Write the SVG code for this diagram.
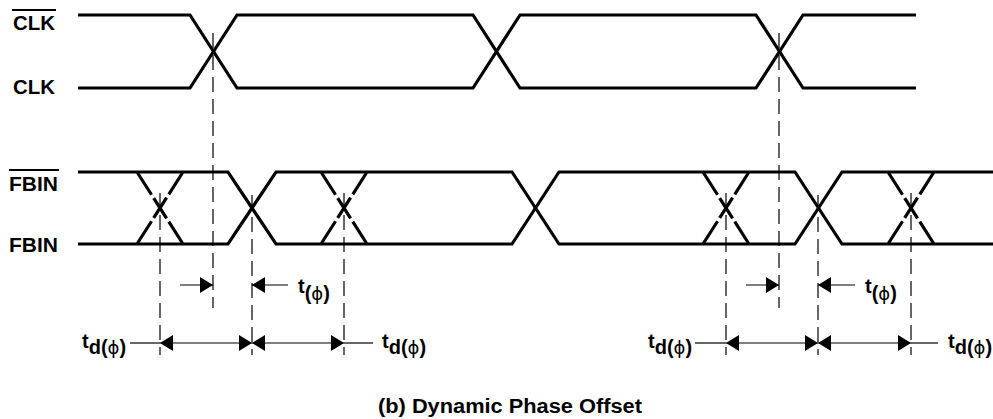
<svg xmlns="http://www.w3.org/2000/svg" width="993" height="419" viewBox="0 0 993 419">
<defs>
<style>
.sig{fill:none;stroke:#000;stroke-width:3.2;stroke-linejoin:miter}
.dx{fill:none;stroke:#000;stroke-width:3.2;stroke-dasharray:27 4 24 4 27}
.vd{fill:none;stroke:#000;stroke-width:1.2;stroke-dasharray:15 7}
.ar{fill:none;stroke:#000;stroke-width:1.2}
.ov{stroke:#000;stroke-width:2.2}
.lbl{font-family:"Liberation Sans",Arial,sans-serif;font-weight:bold;font-size:20px;fill:#000}
.tl{font-family:"Liberation Sans",Arial,sans-serif;font-weight:bold;font-size:20px;fill:#000}
.ph{font-family:"DejaVu Sans","Liberation Sans",sans-serif;font-weight:normal;font-size:18px}
</style>
<marker id="ah" viewBox="0 0 13 16" refX="13" refY="8" markerWidth="13" markerHeight="16" markerUnits="userSpaceOnUse" orient="auto-start-reverse">
<path d="M0,0 L13,8 L0,16 Z" fill="#000"/>
</marker>
</defs>
<rect width="993" height="419" fill="#fff"/>

<g id="clk_bar">
<polyline class="sig" points="78,15 190,15 237,88 473,88 520,15 756,15 803,88 916,88"/>
<text class="lbl" x="13" y="30" textLength="42" lengthAdjust="spacingAndGlyphs">CLK</text>
<line class="ov" x1="12" y1="10" x2="56" y2="10"/>
</g>
<g id="clk">
<polyline class="sig" points="78,88 190,88 237,15 473,15 520,88 756,88 803,15 916,15"/>
<text class="lbl" x="13" y="94" textLength="42" lengthAdjust="spacingAndGlyphs">CLK</text>
</g>
<g id="fbin_bar">
<polyline class="sig" points="78,172 228,172 276,244 512,244 559,172 795,172 842,244 993,244"/>
<text class="lbl" x="9" y="191" textLength="49" lengthAdjust="spacingAndGlyphs">FBIN</text>
<line class="ov" x1="9" y1="170" x2="59" y2="170"/>
</g>
<g id="fbin">
<polyline class="sig" points="78,244 228,244 276,172 512,172 559,244 795,244 842,172 993,172"/>
<text class="lbl" x="9" y="252" textLength="49" lengthAdjust="spacingAndGlyphs">FBIN</text>
</g>
<g id="jitter_edges">
<line class="dx" x1="137" y1="172" x2="183" y2="244"/>
<line class="dx" x1="137" y1="244" x2="183" y2="172"/>
<line class="dx" x1="321" y1="172" x2="367" y2="244"/>
<line class="dx" x1="321" y1="244" x2="367" y2="172"/>
<line class="dx" x1="703" y1="172" x2="749" y2="244"/>
<line class="dx" x1="703" y1="244" x2="749" y2="172"/>
<line class="dx" x1="888" y1="172" x2="934" y2="244"/>
<line class="dx" x1="888" y1="244" x2="934" y2="172"/>
</g>

<g id="connectors">
<line class="vd" x1="213" y1="33" x2="213" y2="308"/>
<line class="vd" x1="779" y1="33" x2="779" y2="308"/>
<line class="vd" x1="160" y1="193" x2="160" y2="355"/>
<line class="vd" x1="252" y1="195" x2="252" y2="355"/>
<line class="vd" x1="344" y1="193" x2="344" y2="355"/>
<line class="vd" x1="726" y1="193" x2="726" y2="355"/>
<line class="vd" x1="818" y1="195" x2="818" y2="355"/>
<line class="vd" x1="911" y1="193" x2="911" y2="355"/>

<line class="ar" x1="180" y1="285" x2="213" y2="285" marker-end="url(#ah)"/>
<line class="ar" x1="288" y1="285" x2="252" y2="285" marker-end="url(#ah)"/>
<line class="ar" x1="746" y1="285" x2="779" y2="285" marker-end="url(#ah)"/>
<line class="ar" x1="855" y1="285" x2="818" y2="285" marker-end="url(#ah)"/>

<line class="ar" x1="130" y1="343" x2="160" y2="343"/>
<line class="ar" x1="160" y1="343" x2="252" y2="343" marker-start="url(#ah)" marker-end="url(#ah)"/>
<line class="ar" x1="252" y1="343" x2="344" y2="343" marker-start="url(#ah)" marker-end="url(#ah)"/>
<line class="ar" x1="344" y1="343" x2="373" y2="343"/>

<line class="ar" x1="695" y1="343" x2="726" y2="343"/>
<line class="ar" x1="726" y1="343" x2="818" y2="343" marker-start="url(#ah)" marker-end="url(#ah)"/>
<line class="ar" x1="818" y1="343" x2="911" y2="343" marker-start="url(#ah)" marker-end="url(#ah)"/>
<line class="ar" x1="911" y1="343" x2="938" y2="343"/>
</g>

<g id="timing_labels">
<text class="tl" x="298" y="293">t<tspan dy="7">(<tspan class="ph">ϕ</tspan>)</tspan></text>
<text class="tl" x="865" y="293">t<tspan dy="7">(<tspan class="ph">ϕ</tspan>)</tspan></text>
<text class="tl" x="82" y="348">t<tspan dy="6">d(<tspan class="ph">ϕ</tspan>)</tspan></text>
<text class="tl" x="382" y="348">t<tspan dy="6">d(<tspan class="ph">ϕ</tspan>)</tspan></text>
<text class="tl" x="648" y="348">t<tspan dy="6">d(<tspan class="ph">ϕ</tspan>)</tspan></text>
<text class="tl" x="948" y="348">t<tspan dy="6">d(<tspan class="ph">ϕ</tspan>)</tspan></text>
</g>

<g id="title">
<text class="lbl" x="378" y="413" textLength="264" lengthAdjust="spacingAndGlyphs">(b) Dynamic Phase Offset</text>
</g>
</svg>
